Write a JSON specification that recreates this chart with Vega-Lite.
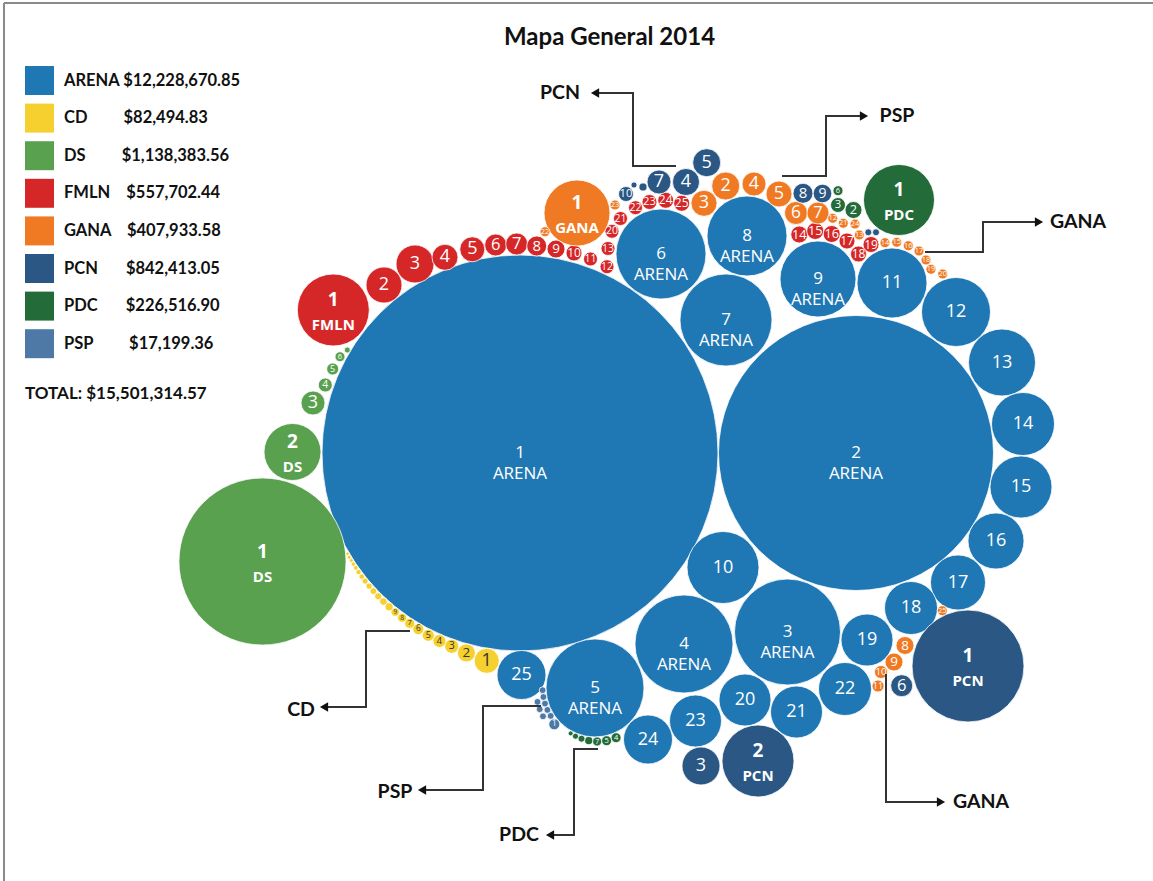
{
  "$schema": "https://vega.github.io/schema/vega-lite/v6.json",
  "width": 1149,
  "height": 878,
  "autosize": {"type": "none"},
  "padding": {"left": 4, "top": 3, "right": 0, "bottom": 0},
  "background": "white",
  "title": {"text": "Mapa General 2014", "font": "Lato", "fontSize": 24, "fontWeight": "bold", "color": "#111111", "anchor": "middle", "frame": "group", "offset": -48, "dx": 31},
  "config": {"view": {"stroke": null}},
  "datasets": {
    "marco": [
      {"x": -516, "y": 450, "x2": 633, "y2": 450},
      {"x": -516, "y": -428, "x2": -516, "y2": 450}
    ],
    "burbujas": [
      {"partido": "ARENA", "n": 1, "x": 0, "y": 0, "monto": 5539500},
      {"partido": "ARENA", "n": 2, "x": 336, "y": 0, "monto": 2671400},
      {"partido": "ARENA", "n": 3, "x": 267.5, "y": -179, "monto": 396900},
      {"partido": "ARENA", "n": 4, "x": 164, "y": -191, "monto": 339300},
      {"partido": "ARENA", "n": 5, "x": 75, "y": -235, "monto": 339300},
      {"partido": "ARENA", "n": 6, "x": 141, "y": 199, "monto": 286100},
      {"partido": "ARENA", "n": 7, "x": 206, "y": 133, "monto": 299000},
      {"partido": "ARENA", "n": 8, "x": 227, "y": 217, "monto": 226100},
      {"partido": "ARENA", "n": 9, "x": 298, "y": 174, "monto": 204000},
      {"partido": "ARENA", "n": 10, "x": 203, "y": -114.5, "monto": 183100},
      {"partido": "ARENA", "n": 11, "x": 372, "y": 170, "monto": 173100},
      {"partido": "ARENA", "n": 12, "x": 436, "y": 141, "monto": 168100},
      {"partido": "ARENA", "n": 13, "x": 482, "y": 90.5, "monto": 158500},
      {"partido": "ARENA", "n": 14, "x": 503, "y": 29, "monto": 140200},
      {"partido": "ARENA", "n": 15, "x": 501, "y": -34, "monto": 135800},
      {"partido": "ARENA", "n": 16, "x": 476, "y": -88, "monto": 110800},
      {"partido": "ARENA", "n": 17, "x": 438, "y": -129.5, "monto": 106800},
      {"partido": "ARENA", "n": 18, "x": 391, "y": -155, "monto": 99200},
      {"partido": "ARENA", "n": 19, "x": 347, "y": -187, "monto": 95500},
      {"partido": "ARENA", "n": 20, "x": 225, "y": -247, "monto": 95500},
      {"partido": "ARENA", "n": 21, "x": 276.5, "y": -259, "monto": 95500},
      {"partido": "ARENA", "n": 22, "x": 325, "y": -236, "monto": 99200},
      {"partido": "ARENA", "n": 23, "x": 175.5, "y": -268, "monto": 95500},
      {"partido": "ARENA", "n": 24, "x": 128, "y": -286.5, "monto": 84800},
      {"partido": "ARENA", "n": 25, "x": 1.5, "y": -222, "monto": 84800},
      {"partido": "DS", "n": 1, "x": -257.5, "y": -108.5, "monto": 986500},
      {"partido": "DS", "n": 2, "x": -227.5, "y": 1, "monto": 114800},
      {"partido": "DS", "n": 3, "x": -207, "y": 50, "monto": 20300},
      {"partido": "DS", "n": 4, "x": -194.7, "y": 68, "monto": 6900},
      {"partido": "DS", "n": 5, "x": -187.3, "y": 84, "monto": 5100},
      {"partido": "DS", "n": 6, "x": -180, "y": 96.3, "monto": 3500},
      {"partido": "DS", "n": 7, "x": -172.7, "y": 103, "monto": 1300},
      {"partido": "FMLN", "n": 1, "x": -186.7, "y": 143, "monto": 183100},
      {"partido": "FMLN", "n": 2, "x": -136, "y": 168, "monto": 45800},
      {"partido": "FMLN", "n": 3, "x": -105, "y": 189, "monto": 51000},
      {"partido": "FMLN", "n": 4, "x": -75, "y": 195.7, "monto": 23900},
      {"partido": "FMLN", "n": 5, "x": -47.7, "y": 203.7, "monto": 22100},
      {"partido": "FMLN", "n": 6, "x": -24.3, "y": 208, "monto": 17100},
      {"partido": "FMLN", "n": 7, "x": -3.3, "y": 209, "monto": 17100},
      {"partido": "FMLN", "n": 8, "x": 16.7, "y": 207, "monto": 14100},
      {"partido": "FMLN", "n": 9, "x": 36, "y": 204, "monto": 11400},
      {"partido": "FMLN", "n": 10, "x": 54, "y": 200, "monto": 9000},
      {"partido": "FMLN", "n": 11, "x": 70.5, "y": 194, "monto": 6900},
      {"partido": "FMLN", "n": 12, "x": 87, "y": 186.3, "monto": 6900},
      {"partido": "FMLN", "n": 13, "x": 88, "y": 204.5, "monto": 6900},
      {"partido": "FMLN", "n": 14, "x": 279.3, "y": 218.5, "monto": 10200},
      {"partido": "FMLN", "n": 15, "x": 295.2, "y": 222, "monto": 10200},
      {"partido": "FMLN", "n": 16, "x": 311.7, "y": 219, "monto": 10200},
      {"partido": "FMLN", "n": 17, "x": 327, "y": 212, "monto": 9000},
      {"partido": "FMLN", "n": 18, "x": 338.5, "y": 199, "monto": 9000},
      {"partido": "FMLN", "n": 19, "x": 351, "y": 208.5, "monto": 9000},
      {"partido": "FMLN", "n": 20, "x": 92, "y": 221.7, "monto": 6900},
      {"partido": "FMLN", "n": 21, "x": 100.5, "y": 234.5, "monto": 6900},
      {"partido": "FMLN", "n": 22, "x": 115.5, "y": 245.3, "monto": 6900},
      {"partido": "FMLN", "n": 23, "x": 129.5, "y": 251, "monto": 7900},
      {"partido": "FMLN", "n": 24, "x": 145.7, "y": 252.7, "monto": 9000},
      {"partido": "FMLN", "n": 25, "x": 161.7, "y": 249.7, "monto": 9000},
      {"partido": "GANA", "n": 1, "x": 57, "y": 240, "monto": 153900},
      {"partido": "GANA", "n": 2, "x": 205.7, "y": 267, "monto": 27700},
      {"partido": "GANA", "n": 3, "x": 184, "y": 249.7, "monto": 23900},
      {"partido": "GANA", "n": 4, "x": 234, "y": 269, "monto": 20300},
      {"partido": "GANA", "n": 5, "x": 259, "y": 259, "monto": 23900},
      {"partido": "GANA", "n": 6, "x": 276, "y": 240, "monto": 18700},
      {"partido": "GANA", "n": 7, "x": 298, "y": 240, "monto": 17100},
      {"partido": "GANA", "n": 8, "x": 385, "y": -192.5, "monto": 11400},
      {"partido": "GANA", "n": 9, "x": 374, "y": -209, "monto": 11400},
      {"partido": "GANA", "n": 10, "x": 361, "y": -219, "monto": 6000},
      {"partido": "GANA", "n": 11, "x": 358, "y": -233, "monto": 5100},
      {"partido": "GANA", "n": 12, "x": 312.7, "y": 234.7, "monto": 3500},
      {"partido": "GANA", "n": 13, "x": 339.3, "y": 218, "monto": 3500},
      {"partido": "GANA", "n": 14, "x": 365, "y": 210.3, "monto": 3500},
      {"partido": "GANA", "n": 15, "x": 376.7, "y": 210.7, "monto": 3500},
      {"partido": "GANA", "n": 16, "x": 388.3, "y": 207.3, "monto": 3500},
      {"partido": "GANA", "n": 17, "x": 399, "y": 202, "monto": 3500},
      {"partido": "GANA", "n": 18, "x": 406, "y": 193, "monto": 3500},
      {"partido": "GANA", "n": 19, "x": 411, "y": 183.7, "monto": 3500},
      {"partido": "GANA", "n": 20, "x": 422.7, "y": 179, "monto": 3500},
      {"partido": "GANA", "n": 21, "x": 323.3, "y": 229.7, "monto": 3500},
      {"partido": "GANA", "n": 22, "x": 25, "y": 221.3, "monto": 3500},
      {"partido": "GANA", "n": 23, "x": 95, "y": 248, "monto": 3500},
      {"partido": "GANA", "n": 24, "x": 335, "y": 229, "monto": 3500},
      {"partido": "GANA", "n": 25, "x": 422.3, "y": -157.7, "monto": 3500},
      {"partido": "PCN", "n": 1, "x": 448, "y": -213, "monto": 443100},
      {"partido": "PCN", "n": 2, "x": 238, "y": -308, "monto": 183100},
      {"partido": "PCN", "n": 3, "x": 181, "y": -313, "monto": 51000},
      {"partido": "PCN", "n": 4, "x": 166, "y": 271, "monto": 25800},
      {"partido": "PCN", "n": 5, "x": 186.7, "y": 290.3, "monto": 27700},
      {"partido": "PCN", "n": 6, "x": 381.7, "y": -232.7, "monto": 17100},
      {"partido": "PCN", "n": 7, "x": 139, "y": 271, "monto": 20300},
      {"partido": "PCN", "n": 8, "x": 283, "y": 259.7, "monto": 14100},
      {"partido": "PCN", "n": 9, "x": 302.5, "y": 259.5, "monto": 12200},
      {"partido": "PCN", "n": 10, "x": 106, "y": 259, "monto": 7900},
      {"partido": "PCN", "n": 11, "x": 123, "y": 266, "monto": 2300},
      {"partido": "PCN", "n": 12, "x": 114, "y": 268, "monto": 1300},
      {"partido": "PCN", "n": 13, "x": 348.3, "y": 220.7, "monto": 1700},
      {"partido": "PCN", "n": 14, "x": 356, "y": 220.7, "monto": 1700},
      {"partido": "PDC", "n": 1, "x": 379, "y": 253, "monto": 178100},
      {"partido": "PDC", "n": 2, "x": 333.5, "y": 243, "monto": 10200},
      {"partido": "PDC", "n": 3, "x": 318, "y": 248, "monto": 7900},
      {"partido": "PDC", "n": 4, "x": 96.1, "y": -284.7, "monto": 3500},
      {"partido": "PDC", "n": 5, "x": 86.6, "y": -287.7, "monto": 3500},
      {"partido": "PDC", "n": 6, "x": 318, "y": 262.3, "monto": 3500},
      {"partido": "PDC", "n": 7, "x": 77.1, "y": -288.5, "monto": 2900},
      {"partido": "PDC", "n": 8, "x": 68.7, "y": -287.6, "monto": 2300},
      {"partido": "PDC", "n": 9, "x": 61.5, "y": -285.7, "monto": 1700},
      {"partido": "PDC", "n": 10, "x": 55.5, "y": -283.2, "monto": 1300},
      {"partido": "PDC", "n": 11, "x": 50.7, "y": -280.4, "monto": 880},
      {"partido": "PSP", "n": 1, "x": 34.3, "y": -271.3, "monto": 4300},
      {"partido": "PSP", "n": 2, "x": 30.7, "y": -262.9, "monto": 1630},
      {"partido": "PSP", "n": 3, "x": 27.4, "y": -256.9, "monto": 1630},
      {"partido": "PSP", "n": 4, "x": 25, "y": -250.6, "monto": 1630},
      {"partido": "PSP", "n": 5, "x": 23.4, "y": -244, "monto": 1630},
      {"partido": "PSP", "n": 6, "x": 22.6, "y": -237.2, "monto": 1630},
      {"partido": "PSP", "n": 7, "x": 23, "y": -263.3, "monto": 1630},
      {"partido": "PSP", "n": 8, "x": 19.7, "y": -256.2, "monto": 1630},
      {"partido": "PSP", "n": 9, "x": 17.5, "y": -248.9, "monto": 1630},
      {"partido": "CD", "n": 1, "x": -33.3, "y": -207.8, "monto": 22100},
      {"partido": "CD", "n": 2, "x": -53.6, "y": -199.9, "monto": 11400},
      {"partido": "CD", "n": 3, "x": -68.3, "y": -193.3, "monto": 6900},
      {"partido": "CD", "n": 4, "x": -80.6, "y": -188, "monto": 6000},
      {"partido": "CD", "n": 5, "x": -91.7, "y": -182.3, "monto": 5100},
      {"partido": "CD", "n": 6, "x": -101.7, "y": -176.2, "monto": 4300},
      {"partido": "CD", "n": 7, "x": -110.3, "y": -170.4, "monto": 3500},
      {"partido": "CD", "n": 8, "x": -117.9, "y": -164.7, "monto": 2900},
      {"partido": "CD", "n": 9, "x": -124.8, "y": -159.1, "monto": 2500},
      {"partido": "CD", "n": 10, "x": -130.9, "y": -153.8, "monto": 2300},
      {"partido": "CD", "n": 11, "x": -136.6, "y": -148.5, "monto": 2000},
      {"partido": "CD", "n": 12, "x": -141.8, "y": -143.3, "monto": 1800},
      {"partido": "CD", "n": 13, "x": -146.6, "y": -138.1, "monto": 1600},
      {"partido": "CD", "n": 14, "x": -150.9, "y": -133.1, "monto": 1400},
      {"partido": "CD", "n": 15, "x": -154.9, "y": -128.1, "monto": 1300},
      {"partido": "CD", "n": 16, "x": -158.2, "y": -123.6, "monto": 1100},
      {"partido": "CD", "n": 17, "x": -161.5, "y": -119, "monto": 960},
      {"partido": "CD", "n": 18, "x": -164.2, "y": -114.9, "monto": 810},
      {"partido": "CD", "n": 19, "x": -166.6, "y": -111.1, "monto": 680},
      {"partido": "CD", "n": 20, "x": -168.7, "y": -107.5, "monto": 570},
      {"partido": "CD", "n": 21, "x": -170.7, "y": -104.2, "monto": 570},
      {"partido": "CD", "n": 22, "x": -172.5, "y": -100.8, "monto": 460}
    ],
    "flechas": [
      {"anot": "PCN", "orden": 1, "x": 156, "y": 287},
      {"anot": "PCN", "orden": 2, "x": 113, "y": 287},
      {"anot": "PCN", "orden": 3, "x": 113, "y": 360},
      {"anot": "PCN", "orden": 4, "x": 75, "y": 360},
      {"anot": "PSP_sup", "orden": 1, "x": 262, "y": 277},
      {"anot": "PSP_sup", "orden": 2, "x": 306, "y": 277},
      {"anot": "PSP_sup", "orden": 3, "x": 306, "y": 337},
      {"anot": "PSP_sup", "orden": 4, "x": 344, "y": 337},
      {"anot": "GANA_der", "orden": 1, "x": 405, "y": 201},
      {"anot": "GANA_der", "orden": 2, "x": 463, "y": 201},
      {"anot": "GANA_der", "orden": 3, "x": 463, "y": 231},
      {"anot": "GANA_der", "orden": 4, "x": 519, "y": 231},
      {"anot": "CD", "orden": 1, "x": -110, "y": -178},
      {"anot": "CD", "orden": 2, "x": -154, "y": -178},
      {"anot": "CD", "orden": 3, "x": -154, "y": -254},
      {"anot": "CD", "orden": 4, "x": -196, "y": -254},
      {"anot": "PSP_inf", "orden": 1, "x": 21, "y": -253},
      {"anot": "PSP_inf", "orden": 2, "x": -37, "y": -253},
      {"anot": "PSP_inf", "orden": 3, "x": -37, "y": -337},
      {"anot": "PSP_inf", "orden": 4, "x": -98, "y": -337},
      {"anot": "PDC", "orden": 1, "x": 78, "y": -296},
      {"anot": "PDC", "orden": 2, "x": 54, "y": -296},
      {"anot": "PDC", "orden": 3, "x": 54, "y": -382},
      {"anot": "PDC", "orden": 4, "x": 30, "y": -382},
      {"anot": "GANA_inf", "orden": 1, "x": 366, "y": -221},
      {"anot": "GANA_inf", "orden": 2, "x": 366, "y": -349},
      {"anot": "GANA_inf", "orden": 3, "x": 421, "y": -349}
    ],
    "puntas": [
      {"anot": "PCN", "dir": "izquierda", "x": 75, "y": 360},
      {"anot": "PSP_sup", "dir": "derecha", "x": 344, "y": 337},
      {"anot": "GANA_der", "dir": "derecha", "x": 519, "y": 231},
      {"anot": "CD", "dir": "izquierda", "x": -196, "y": -254},
      {"anot": "PSP_inf", "dir": "izquierda", "x": -98, "y": -337},
      {"anot": "PDC", "dir": "izquierda", "x": 30, "y": -382},
      {"anot": "GANA_inf", "dir": "derecha", "x": 421, "y": -349}
    ],
    "rotulos": [
      {"texto": "PCN", "x": 40, "y": 360},
      {"texto": "PSP", "x": 377, "y": 337},
      {"texto": "GANA", "x": 558, "y": 231},
      {"texto": "CD", "x": -219, "y": -257},
      {"texto": "PSP", "x": -125, "y": -339},
      {"texto": "PDC", "x": -1, "y": -382},
      {"texto": "GANA", "x": 461, "y": -349}
    ]
  },
  "encoding": {
    "x": {"field": "x", "type": "quantitative", "scale": {"domain": [-516, 633], "nice": false, "zero": false}, "axis": null},
    "y": {"field": "y", "type": "quantitative", "scale": {"domain": [-428, 450], "nice": false, "zero": false}, "axis": null}
  },
  "layer": [
    {
      "data": {"name": "marco"},
      "mark": {"type": "rule", "color": "#8a8a8a", "strokeWidth": 2},
      "encoding": {"x2": {"field": "x2"}, "y2": {"field": "y2"}}
    },
    {
      "data": {"name": "burbujas"},
      "mark": {"type": "circle", "opacity": 1, "stroke": "white", "strokeWidth": 0.8},
      "encoding": {
        "size": {"field": "monto", "type": "quantitative", "scale": {"type": "linear", "domain": [0, 1413000], "range": [0, 40000], "zero": true}, "legend": null},
        "color": {
          "field": "partido", "type": "nominal",
          "scale": {"domain": ["ARENA", "CD", "DS", "FMLN", "GANA", "PCN", "PDC", "PSP"], "range": ["#1f77b4", "#f6d02f", "#59a14f", "#d62728", "#ef7a23", "#2a5783", "#246b3a", "#4e79a7"]},
          "legend": {
            "orient": "none", "legendX": 21, "legendY": 63, "padding": 0,
            "title": "TOTAL: $15,501,314.57", "titleOrient": "bottom", "titleAnchor": "start", "titleFont": "Lato", "titleFontSize": 17, "titleFontWeight": "bold", "titleColor": "#111111", "titlePadding": 28, "titleLimit": 400,
            "symbolType": "square", "symbolSize": 840, "symbolStrokeWidth": 0, "symbolOpacity": 1,
            "labelFont": "Lato", "labelFontSize": 16.5, "labelFontWeight": "bold", "labelColor": "#111111", "labelOffset": 10, "labelLimit": 400,
            "rowPadding": 8.6,
            "labelExpr": "datum.label == 'ARENA' ? 'ARENA\u00a0$12,228,670.85' : datum.label == 'CD' ? 'CD\u00a0\u00a0\u00a0\u00a0\u00a0\u00a0\u00a0\u00a0\u00a0$82,494.83' : datum.label == 'DS' ? 'DS\u00a0\u00a0\u00a0\u00a0\u00a0\u00a0\u00a0\u00a0\u00a0$1,138,383.56' : datum.label == 'FMLN' ? 'FMLN\u00a0\u00a0\u00a0\u00a0$557,702.44' : datum.label == 'GANA' ? 'GANA\u00a0\u00a0\u00a0\u00a0$407,933.58' : datum.label == 'PCN' ? 'PCN\u00a0\u00a0\u00a0\u00a0\u00a0\u00a0\u00a0$842,413.05' : datum.label == 'PDC' ? 'PDC\u00a0\u00a0\u00a0\u00a0\u00a0\u00a0\u00a0$226,516.90' : 'PSP\u00a0\u00a0\u00a0\u00a0\u00a0\u00a0\u00a0\u00a0\u00a0$17,199.36'"
          }
        }
      }
    },
    {
      "data": {"name": "burbujas"},
      "transform": [{"filter": "!((datum.partido == 'ARENA' && datum.monto > 190000) || (datum.partido != 'ARENA' && datum.monto > 100000)) && datum.monto >= 2400"}],
      "mark": {"type": "text", "font": "Open Sans", "align": "center", "baseline": "middle"},
      "encoding": {
        "text": {"field": "n", "type": "nominal"},
        "size": {"field": "monto", "type": "quantitative", "scale": {"type": "sqrt", "domain": [0, 20250], "range": [0, 18], "clamp": true}, "legend": null},
        "color": {"condition": {"test": "datum.partido == 'CD'", "value": "#333333"}, "value": "white"}
      }
    },
    {
      "data": {"name": "burbujas"},
      "transform": [{"filter": "datum.partido == 'ARENA' && datum.monto > 190000"}],
      "mark": {"type": "text", "font": "Open Sans", "fontSize": 17, "align": "center", "baseline": "middle", "color": "white", "dy": 0},
      "encoding": {"text": {"field": "n", "type": "nominal"}}
    },
    {
      "data": {"name": "burbujas"},
      "transform": [{"filter": "datum.partido == 'ARENA' && datum.monto > 190000"}],
      "mark": {"type": "text", "font": "Open Sans", "fontSize": 17, "align": "center", "baseline": "middle", "color": "white", "dy": 21},
      "encoding": {"text": {"field": "partido", "type": "nominal"}}
    },
    {
      "data": {"name": "burbujas"},
      "transform": [{"filter": "datum.partido != 'ARENA' && datum.monto > 100000"}],
      "mark": {"type": "text", "font": "Open Sans", "fontSize": 19, "fontWeight": "bold", "align": "center", "baseline": "middle", "color": "white", "dy": -10},
      "encoding": {"text": {"field": "n", "type": "nominal"}}
    },
    {
      "data": {"name": "burbujas"},
      "transform": [{"filter": "datum.partido != 'ARENA' && datum.monto > 100000"}],
      "mark": {"type": "text", "font": "Open Sans", "fontSize": 15, "fontWeight": "bold", "align": "center", "baseline": "middle", "color": "white", "dy": 15},
      "encoding": {"text": {"field": "partido", "type": "nominal"}}
    },
    {
      "data": {"name": "flechas"},
      "mark": {"type": "line", "color": "#333333", "strokeWidth": 2},
      "encoding": {"detail": {"field": "anot", "type": "nominal"}, "order": {"field": "orden", "type": "quantitative"}}
    },
    {
      "data": {"name": "puntas"},
      "mark": {"type": "point", "filled": true, "opacity": 1, "color": "#111111", "size": 90},
      "encoding": {"shape": {"field": "dir", "type": "nominal", "scale": {"domain": ["izquierda", "derecha"], "range": ["triangle-left", "triangle-right"]}, "legend": null}}
    },
    {
      "data": {"name": "rotulos"},
      "mark": {"type": "text", "font": "Lato", "fontSize": 19.5, "fontWeight": "bold", "color": "#111111", "align": "center", "baseline": "middle"},
      "encoding": {"text": {"field": "texto", "type": "nominal"}}
    }
  ],
  "resolve": {"scale": {"size": "independent"}}
}
